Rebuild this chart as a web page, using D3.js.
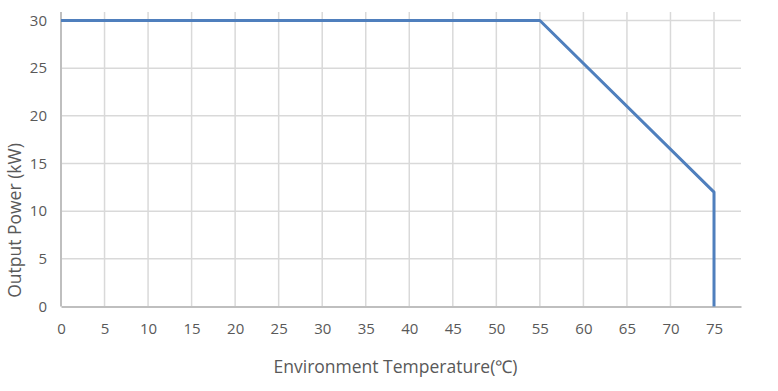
<!DOCTYPE html>
<html>
<head>
<meta charset="utf-8">
<script src="https://cdn.jsdelivr.net/npm/d3@7"></script>
<style>
  body { margin: 0; background: #fff; }
  text { font-family: "Open Sans", sans-serif; fill: #595959; }
</style>
</head>
<body>
<div id="chart"></div>
<script>
// Derating curve
const temps = [0, 55, 75, 75];
const power = [30, 30, 12, 0];
const xTicks = [0, 5, 10, 15, 20, 25, 30, 35, 40, 45, 50, 55, 60, 65, 70, 75];
const yTicks = [0, 5, 10, 15, 20, 25, 30];

const width = 778;
const height = 391;
const margin = { top: 20.5, right: 37, bottom: 84.5, left: 61 };

const svg = d3.select("#chart")
  .append("svg")
  .attr("width", width)
  .attr("height", height);

const x = d3.scaleLinear()
  .domain([0, 78.1])
  .range([margin.left, width - margin.right]);

const y = d3.scaleLinear()
  .domain([0, 30])
  .range([height - margin.bottom, margin.top]);

// gridlines
svg.append("g")
  .selectAll("line")
  .data(yTicks.slice(1))
  .enter()
  .append("line")
  .attr("x1", x(0))
  .attr("x2", x(78.1))
  .attr("y1", d => y(d))
  .attr("y2", d => y(d))
  .attr("stroke", "#d9d9d9")
  .attr("stroke-width", 1.5);

svg.append("g")
  .selectAll("line")
  .data(xTicks.slice(1))
  .enter()
  .append("line")
  .attr("x1", d => x(d))
  .attr("x2", d => x(d))
  .attr("y1", 12)
  .attr("y2", y(0))
  .attr("stroke", "#d9d9d9")
  .attr("stroke-width", 1.5);

// axes
const xAxis = svg.append("g")
  .attr("transform", `translate(0,${y(0)})`)
  .call(d3.axisBottom(x).tickValues(xTicks).tickSize(0).tickPadding(17));
xAxis.select(".domain").attr("stroke", "#bfbfbf").attr("stroke-width", 2);
xAxis.selectAll("text").attr("font-size", "15px").attr("fill", "#595959");

const yAxis = svg.append("g")
  .attr("transform", `translate(${x(0)},0)`)
  .call(d3.axisLeft(y).tickValues(yTicks).tickSize(0).tickPadding(14));
yAxis.select(".domain").remove();
yAxis.selectAll("text").attr("font-size", "15px").attr("fill", "#595959");

svg.append("line")
  .attr("x1", x(0)).attr("x2", x(0))
  .attr("y1", 12).attr("y2", y(0))
  .attr("stroke", "#bfbfbf")
  .attr("stroke-width", 2);

// curve
const line = d3.line()
  .x((d, i) => x(temps[i]))
  .y(d => y(d));

svg.append("path")
  .datum(power)
  .attr("fill", "none")
  .attr("stroke", "#4f7fbd")
  .attr("stroke-width", 3)
  .attr("stroke-linejoin", "round")
  .attr("d", line);

// axis titles
svg.append("text")
  .attr("x", 395.5)
  .attr("y", 373)
  .attr("text-anchor", "middle")
  .attr("font-size", "17.5px")
  .text("Environment Temperature(℃)");

svg.append("text")
  .attr("transform", "translate(21,220.5) rotate(-90)")
  .attr("text-anchor", "middle")
  .attr("font-size", "17.5px")
  .text("Output Power (kW)");
</script>
</body>
</html>
